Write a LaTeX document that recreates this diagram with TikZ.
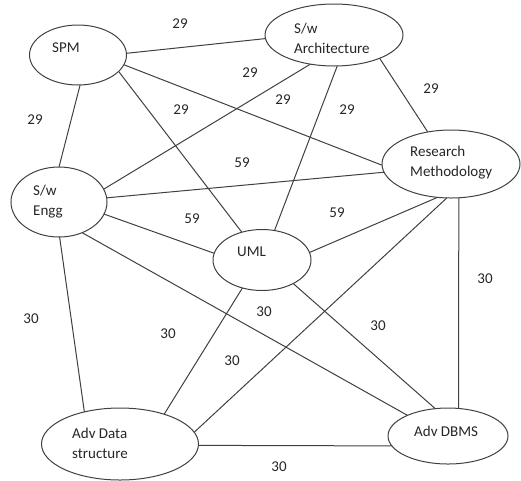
\documentclass[tikz,border=0pt]{standalone}
\usepackage{fontspec}
\setmainfont{Carlito}
\usetikzlibrary{shapes.geometric}
\begin{document}
\begin{tikzpicture}[x=1pt, y=-1pt, node_style/.style={ellipse,draw=black!75,line width=1pt,inner sep=0pt,outer sep=0pt},text_style/.style={anchor=west,align=left,inner sep=0pt,text=black!85,font=\fontsize{15}{20}\selectfont},weight_style/.style={inner sep=0pt,text=black!85,font=\fontsize{15}{20}\selectfont},edge_style/.style={draw=black!75,line width=1pt}]
      \useasboundingbox (0,0) rectangle (521,480);
      \draw
        (78,55) node[node_style,minimum width=97pt,minimum height=60pt] (spm){}
        (334,35) node[node_style,minimum width=138pt,minimum height=62pt] (arch){}
        (451,164) node[node_style,minimum width=138pt,minimum height=68pt] (res){}
        (59,202) node[node_style,minimum width=96pt,minimum height=70pt] (engg){}
        (262,260) node[node_style,minimum width=98pt,minimum height=61pt] (uml){}
        (120,444) node[node_style,minimum width=157pt,minimum height=72pt] (adata){}
        (448,436) node[node_style,minimum width=120pt,minimum height=56pt] (dbms){};
      \draw
        (52,48) node[text_style] (spm_t){SPM}
        (294,38) node[text_style] (arch_t){S/w\\Architecture}
        (410,163) node[text_style] (res_t){Research\\Methodology}
        (33,202) node[text_style] (engg_t){S/w\\Engg}
        (237,252) node[text_style] (uml_t){UML}
        (72,443) node[text_style] (adata_t){Adv Data\\structure}
        (414,431) node[text_style] (dbms_t){Adv DBMS};
      \draw
        (180,24) node[weight_style] (w1){29}
        (35,120) node[weight_style] (w2){29}
        (250,73) node[weight_style] (w3){29}
        (181,110) node[weight_style] (w4){29}
        (283,100) node[weight_style] (w5){29}
        (347,110) node[weight_style] (w6){29}
        (431,89) node[weight_style] (w7){29}
        (242,163) node[weight_style] (w8){59}
        (192,219) node[weight_style] (w9){59}
        (337,213) node[weight_style] (w10){59}
        (31,319) node[weight_style] (w11){30}
        (168,334) node[weight_style] (w12){30}
        (264,312) node[weight_style] (w13){30}
        (232,361) node[weight_style] (w14){30}
        (378,326) node[weight_style] (w15){30}
        (485,279) node[weight_style] (w16){30}
        (279,467) node[weight_style] (w17){30};
      \begin{scope}
        \draw[edge_style] (spm.2) to (arch.183);
        \draw[edge_style] (spm.-86) to (engg.90);
        \draw[edge_style] (spm.-12) to (res.181);
        \draw[edge_style] (spm.-22) to (uml.126);
        \draw[edge_style] (arch.231) to (engg.16);
        \draw[edge_style] (arch.-84) to (uml.67);
        \draw[edge_style] (arch.-27) to (res.126);
        \draw[edge_style] (engg.5) to (res.187);
        \draw[edge_style] (engg.-15) to (uml.172);
        \draw[edge_style] (engg.-53) to (dbms.153);
        \draw[edge_style] (engg.-89) to (adata.138);
        \draw[edge_style] (uml.9) to (res.248);
        \draw[edge_style] (uml.235) to (adata.34);
        \draw[edge_style] (uml.-37) to (dbms.115);
        \draw[edge_style] (res.263) to (adata.9);
        \draw[edge_style] (res.-77) to (dbms.69);
        \draw[edge_style] (adata.-1) to (dbms.190);
      \end{scope}
    \end{tikzpicture}
\end{document}
